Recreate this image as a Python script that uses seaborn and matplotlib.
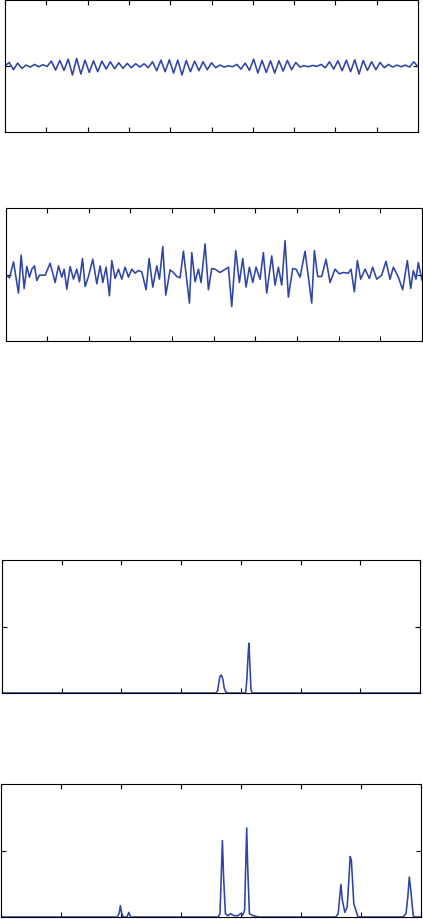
import numpy as np
import pandas as pd
import matplotlib
matplotlib.use("Agg")
import matplotlib.pyplot as plt
import seaborn as sns

sns.set_style("white")

# Panel 1: periodic signal (uniform sampling, one value per half-cycle)
sig1 = [0.0, 0.05, -0.06, 0.04, -0.04, 0.01, -0.02, 0.02, -0.015, 0.015, -0.01,
        0.07, -0.065, 0.08, -0.07, 0.10, -0.14, 0.11, -0.125, 0.085, -0.10, 0.075, -0.09, 0.07,
        -0.05, 0.06, -0.045, 0.045, -0.04, 0.035, -0.03, 0.03, -0.02, 0.03,
        -0.03, 0.06, -0.075, 0.085, -0.09, 0.09, -0.11, 0.085, -0.14, 0.08, -0.09, 0.07,
        -0.075, 0.06, -0.06, 0.045,
        -0.03, 0.01, -0.02, 0.0, -0.015, 0.02,
        -0.05, 0.04, -0.07, 0.10, -0.11, 0.08, -0.10, 0.075, -0.11, 0.075, -0.08, 0.08,
        -0.06, 0.05,
        -0.02, 0.0, -0.015, 0.005, -0.01, 0.02,
        -0.03, 0.06, -0.05, 0.075, -0.075, 0.085, -0.09, 0.09, -0.125, 0.08, -0.07, 0.06,
        -0.06, 0.05,
        -0.03, 0.02, -0.02, 0.01, -0.015, 0.01, -0.02, 0.06, -0.015]

# Panel 2: irregular signal
t2 = [16, 28, 40, 55, 63, 72, 80, 88, 95, 103, 110, 118, 135, 150, 165, 175, 185, 192, 200, 210,
      220, 230, 238, 247, 255, 265, 278, 290, 300, 308, 318, 328, 335, 345, 355, 365, 375, 385,
      395, 405, 415, 425, 438, 447, 458, 470, 478, 488, 497, 510, 520, 530, 540, 550, 568, 575,
      585, 595, 603, 615, 625, 635, 645, 660, 685, 695, 707, 718, 728, 738, 748, 758, 768, 780,
      790, 800, 815, 825, 835, 845, 855, 865, 878, 888, 900, 915, 935, 943, 953, 965, 978, 990,
      1005, 1018, 1030, 1045, 1053, 1063, 1072, 1082, 1095, 1108, 1118, 1130, 1145, 1158, 1170,
      1180, 1195, 1208, 1222, 1232, 1240, 1248, 1255, 1266]
sig2 = [0.00, -0.05, 0.19, -0.28, 0.29, -0.21, 0.12, -0.04, 0.08, 0.13, -0.09, -0.01, -0.01,
        0.17, -0.12, 0.13, -0.04, 0.08, -0.22, 0.12, -0.07, 0.08, -0.11, 0.24, -0.18, -0.03,
        0.23, -0.14, 0.13, -0.12, 0.11, -0.32, 0.21, -0.06, 0.08, -0.07, 0.11, -0.04, 0.08,
        0.02, 0.06, 0.04, -0.23, 0.24, -0.19, 0.13, -0.07, 0.42, -0.31, 0.07, 0.03, -0.03,
        -0.05, 0.35, -0.43, 0.33, -0.11, 0.08, -0.12, 0.46, -0.23, 0.09, 0.08, 0.03, 0.11,
        -0.48, 0.36, -0.12, 0.24, -0.19, 0.11, -0.12, 0.11, -0.07, 0.33, -0.28, 0.28, -0.16,
        0.11, -0.16, 0.51, -0.34, 0.09, 0.08, -0.04, 0.35, -0.43, 0.36, -0.03, -0.03, 0.23,
        -0.12, 0.08, 0.01, 0.03, 0.02, 0.08, -0.26, 0.21, -0.07, 0.08, -0.06, 0.11, -0.07,
        -0.01, 0.20, -0.07, 0.11, -0.04, -0.23, 0.21, -0.21, 0.06, -0.07, 0.18, -0.09]

# Panel 3: spectrum of signal 1
f3 = [0.0, 3.58, 3.61, 3.63, 3.65, 3.67, 3.68, 3.70, 3.72, 3.75, 3.80, 4.08, 4.10, 4.12,
      4.135, 4.15, 4.17, 4.19, 7.0]
a3 = [0, 0, 0.03, 0.15, 0.25, 0.27, 0.26, 0.20, 0.08, 0.01, 0, 0, 0.2, 0.55, 0.75, 0.45,
      0.05, 0, 0]

# Panel 4: spectrum of signal 2
f4 = [0.0, 1.94, 1.97, 1.99, 2.01, 2.04, 2.10, 2.13, 2.16, 3.62, 3.65, 3.67, 3.69, 3.71,
      3.74, 3.78, 3.83, 3.88, 3.95, 3.99, 4.03, 4.06, 4.08, 4.095, 4.11, 4.14, 4.20, 4.30,
      5.58, 5.62, 5.645, 5.665, 5.69, 5.73, 5.77, 5.80, 5.82, 5.84, 5.88, 5.95, 6.70, 6.75,
      6.78, 6.805, 6.83, 6.87, 6.90, 7.0]
a4 = [0, 0, 0.06, 0.17, 0.06, 0, 0, 0.07, 0, 0, 0.05, 0.6, 1.15, 0.6, 0.05, 0.02, 0.05,
      0.02, 0.02, 0.05, 0.03, 0.1, 0.8, 1.34, 0.8, 0.05, 0.02, 0, 0, 0.05, 0.3, 0.49, 0.25,
      0.07, 0.15, 0.6, 0.91, 0.85, 0.2, 0.0, 0.0, 0.05, 0.3, 0.6, 0.4, 0.02, 0, 0]

W, H = 423, 920
fig = plt.figure(figsize=(W / 100, H / 100), dpi=100)
LINE = "#2E44A6"
LW = 1.15


def rect(left, right, top, bottom):
    return [left / W, 1 - bottom / H, (right - left) / W, (bottom - top) / H]


def style(ax, xt, yt):
    ax.set_xticks(xt)
    ax.set_yticks(yt)
    ax.tick_params(direction="in", length=3.5, width=0.8, top=True, right=True,
                   bottom=True, left=True, labelbottom=False, labelleft=False, color="black")
    for s in ax.spines.values():
        s.set_color("black")
        s.set_linewidth(0.8)
    ax.set_xlabel("")
    ax.set_ylabel("")
    ax.grid(False)


# Panel 1
ax1 = fig.add_axes(rect(5, 418, 0.5, 133))
n1 = np.arange(len(sig1))
sns.lineplot(x=n1, y=sig1, ax=ax1, color=LINE, linewidth=LW, estimator=None)
ax1.set_xlim(0, len(sig1) - 1)
ax1.set_ylim(-1, 1)
style(ax1, np.linspace(0, len(sig1) - 1, 11), [0])

# Panel 2
ax2 = fig.add_axes(rect(5.5, 422, 209, 342))
sns.lineplot(x=t2, y=sig2, ax=ax2, color=LINE, linewidth=LW, estimator=None)
ax2.set_xlim(t2[0], t2[-1])
ax2.set_ylim(-1, 1)
style(ax2, np.linspace(t2[0], t2[-1], 11), [0])

# Panel 3
ax3 = fig.add_axes(rect(2, 420, 561, 694))
sns.lineplot(x=f3, y=a3, ax=ax3, color=LINE, linewidth=LW, estimator=None)
ax3.set_xlim(0, 7)
ax3.set_ylim(0, 2)
style(ax3, np.arange(0, 8), [1])

# Panel 4
ax4 = fig.add_axes(rect(1, 421, 785, 918))
sns.lineplot(x=f4, y=a4, ax=ax4, color=LINE, linewidth=LW, estimator=None)
ax4.set_xlim(0, 7)
ax4.set_ylim(0, 2)
style(ax4, np.arange(0, 8), [1])

fig.savefig("out.png", dpi=100)
